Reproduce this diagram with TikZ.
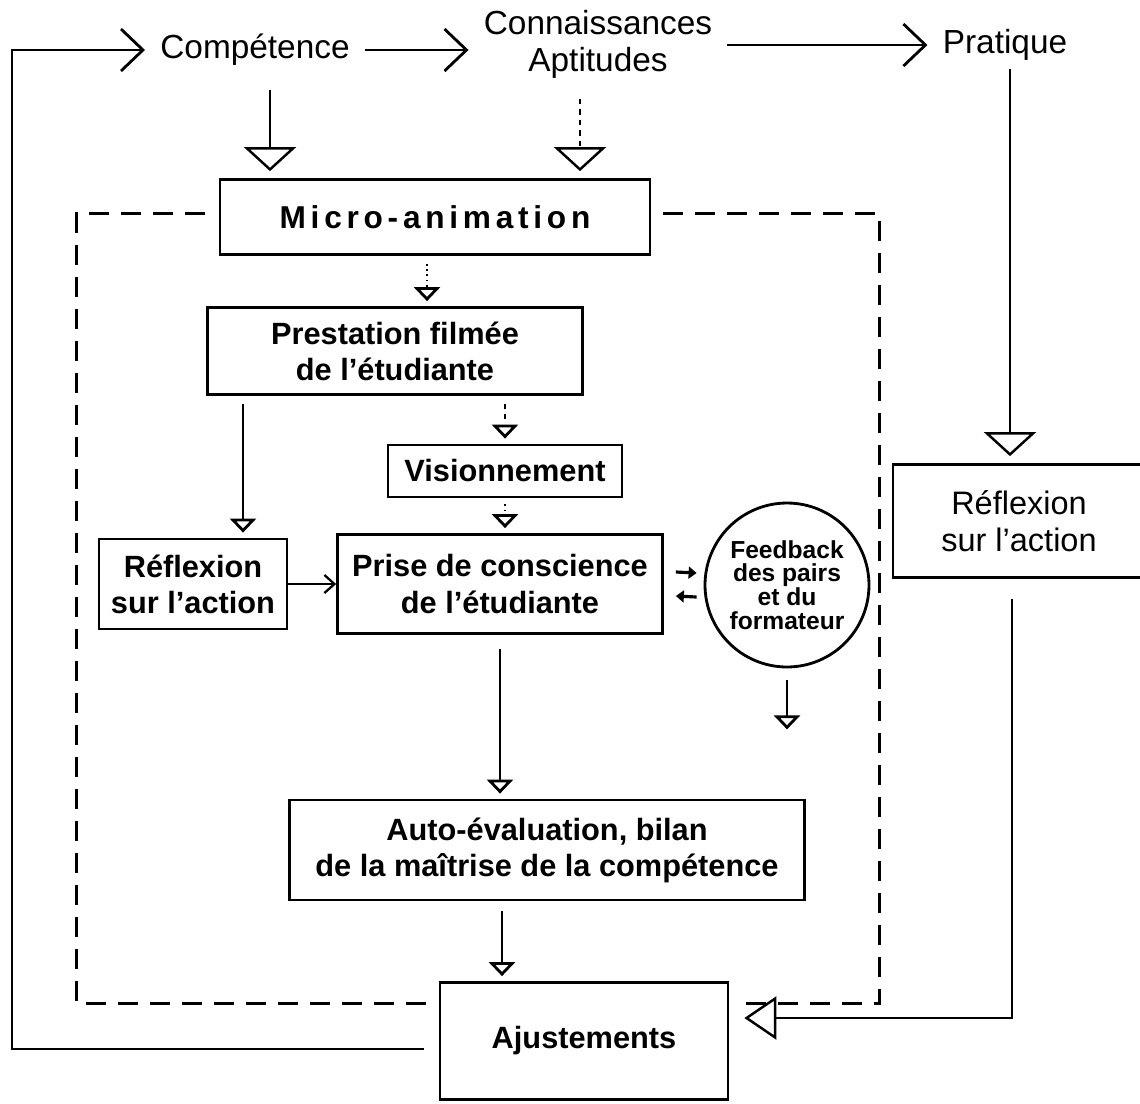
\documentclass[tikz,border=0pt]{standalone}
\usepackage{fontspec}
\setmainfont{Liberation Sans}
\usetikzlibrary{arrows.meta,calc}

\begin{document}
\begin{tikzpicture}[x=0.02cm, y=-0.02cm,
        toptext/.style={font=\fontsize{19}{21}\selectfont, align=center, inner xsep=0.3cm, inner ysep=2pt},
        box/.style={draw, line width=1.6pt, fill=white, align=center, inner sep=0pt, font=\bfseries\fontsize{17.5}{20.5}\selectfont},
        link/.style={line width=1pt},
        chev/.style={line width=1.6pt, -{Straight Barb[length=0.44cm, width=0.84cm]}},
        bigtip/.style={link, -{Triangle[open, length=0.48cm, width=1.04cm, line width=1.4pt]}, shorten >=0.14cm},
        smalltip/.style={link, -{Triangle[open, length=0.28cm, width=0.52cm, line width=1.6pt]}, shorten >=0.1cm},
        framedash/.style={line width=1.7pt, dash pattern=on 0.4cm off 0.24cm}]
        \useasboundingbox (0, 0) rectangle (1140, 1103);

        \node[toptext] (comp) at (255, 50) {Compétence};
        \node[toptext] (conn) at (598, 44) {Connaissances\\Aptitudes};
        \node[toptext] (prat) at (1005, 45) {Pratique};

        \node[box, minimum width=8.6cm, minimum height=1.5cm, font=\bfseries\fontsize{18}{20}\selectfont\addfontfeature{LetterSpace=15}] (micro) at (435, 217) {Micro-animation};
        \node[box, minimum width=7.5cm, minimum height=1.74cm] (prest) at (395, 351) {Prestation filmée\\de l'étudiante};
        \node[box, minimum width=4.68cm, minimum height=1.04cm] (vision) at (505, 471) {Visionnement};
        \node[box, minimum width=3.76cm, minimum height=1.8cm] (reflA) at (193, 584) {Réflexion\\sur l'action};
        \node[box, minimum width=6.5cm, minimum height=1.98cm] (prise) at (500, 584) {Prise de conscience\\de l'étudiante};
        \node[box, circle, minimum size=3.28cm, font=\bfseries\fontsize{14}{13.5}\selectfont] (feed) at (787, 585) {Feedback\\des pairs\\et du\\formateur};
        \node[box, minimum width=10.3cm, minimum height=2cm] (auto) at (547, 850) {Auto-évaluation, bilan\\de la maîtrise de la compétence};
        \node[box, minimum width=5.76cm, minimum height=2.34cm] (ajust) at (584, 1041) {Ajustements};
        \node[box, font=\fontsize{18.5}{21}\selectfont, minimum width=5.04cm, minimum height=2.26cm] (reflB) at (1019, 521) {Réflexion\\sur l'action};

        \draw[framedash] ($(micro.west)+(-14,-4)$) -| ($(ajust.west)+(-362,-38)$) -- ($(ajust.west)+(-8,-38)$);
        \draw[framedash] ($(micro.east)+(12,-4)$) -| ($(ajust.east)+(150,-38)$) -- ($(ajust.east)+(12,-38)$);

        \draw[chev] ($(ajust.west)+(-15,8)$) -| ($(comp.west)+(-133,0)$) -- (comp.west);
        \draw[chev] (comp.east) -- (comp.east -| conn.west);
        \draw[chev] (conn.east |- prat.west) -- (prat.west);

        \draw[bigtip, shorten <=0.4cm] ($(comp.south)+(15,0)$) -- ($(micro.north)+(-165,0)$);
        \draw[bigtip, dashed, shorten <=0.34cm] ($(conn.south)+(-18,0)$) -- ($(micro.north)+(145,0)$);
        \draw[bigtip, shorten <=0.1cm] ($(prat.south)+(5,0)$) -- ($(reflB.north)+(-9,0)$);

        \draw[smalltip, dotted] ($(micro.south)+(-8,8)$) -- ($(prest.north)+(32,0)$);
        \draw[smalltip, dashed] ($(vision.north)+(0,-40)$) -- (vision.north);
        \draw[smalltip, dotted] ($(vision.south)+(0,6)$) -- (vision.south |- prise.north);
        \draw[smalltip] ($(reflA.north)+(50,-134)$) -- ($(reflA.north)+(50,0)$);
        \draw[line width=1.3pt, -{Straight Barb[length=0.2cm, width=0.36cm]}] (reflA.east) -- (prise.west);
        \draw[line width=1.8pt, -{Triangle[length=0.16cm, width=0.24cm]}] ($(prise.east)+(12,-12)$) -- ($(feed.west)+(-7,-12)$);
        \draw[line width=1.8pt, -{Triangle[length=0.16cm, width=0.24cm]}] ($(feed.west)+(-7,12)$) -- ($(prise.east)+(12,12)$);
        \draw[smalltip] ($(feed.south)+(0,12)$) -- ($(feed.south)+(0,66)$);
        \draw[smalltip, shorten <=0.28cm] (prise.south) -- (prise.south |- auto.north);
        \draw[smalltip, shorten <=0.2cm] ($(auto.south)+(-45,0)$) -- ($(ajust.north)+(-82,0)$);
        \draw[line width=1.4pt, -{Triangle[open, length=0.64cm, width=0.86cm, line width=1.4pt]}, shorten >=0.3cm] ($(reflB.south)+(-7,20)$) |- ($(ajust.east)+(0,-23)$);
    \end{tikzpicture}
\end{document}
